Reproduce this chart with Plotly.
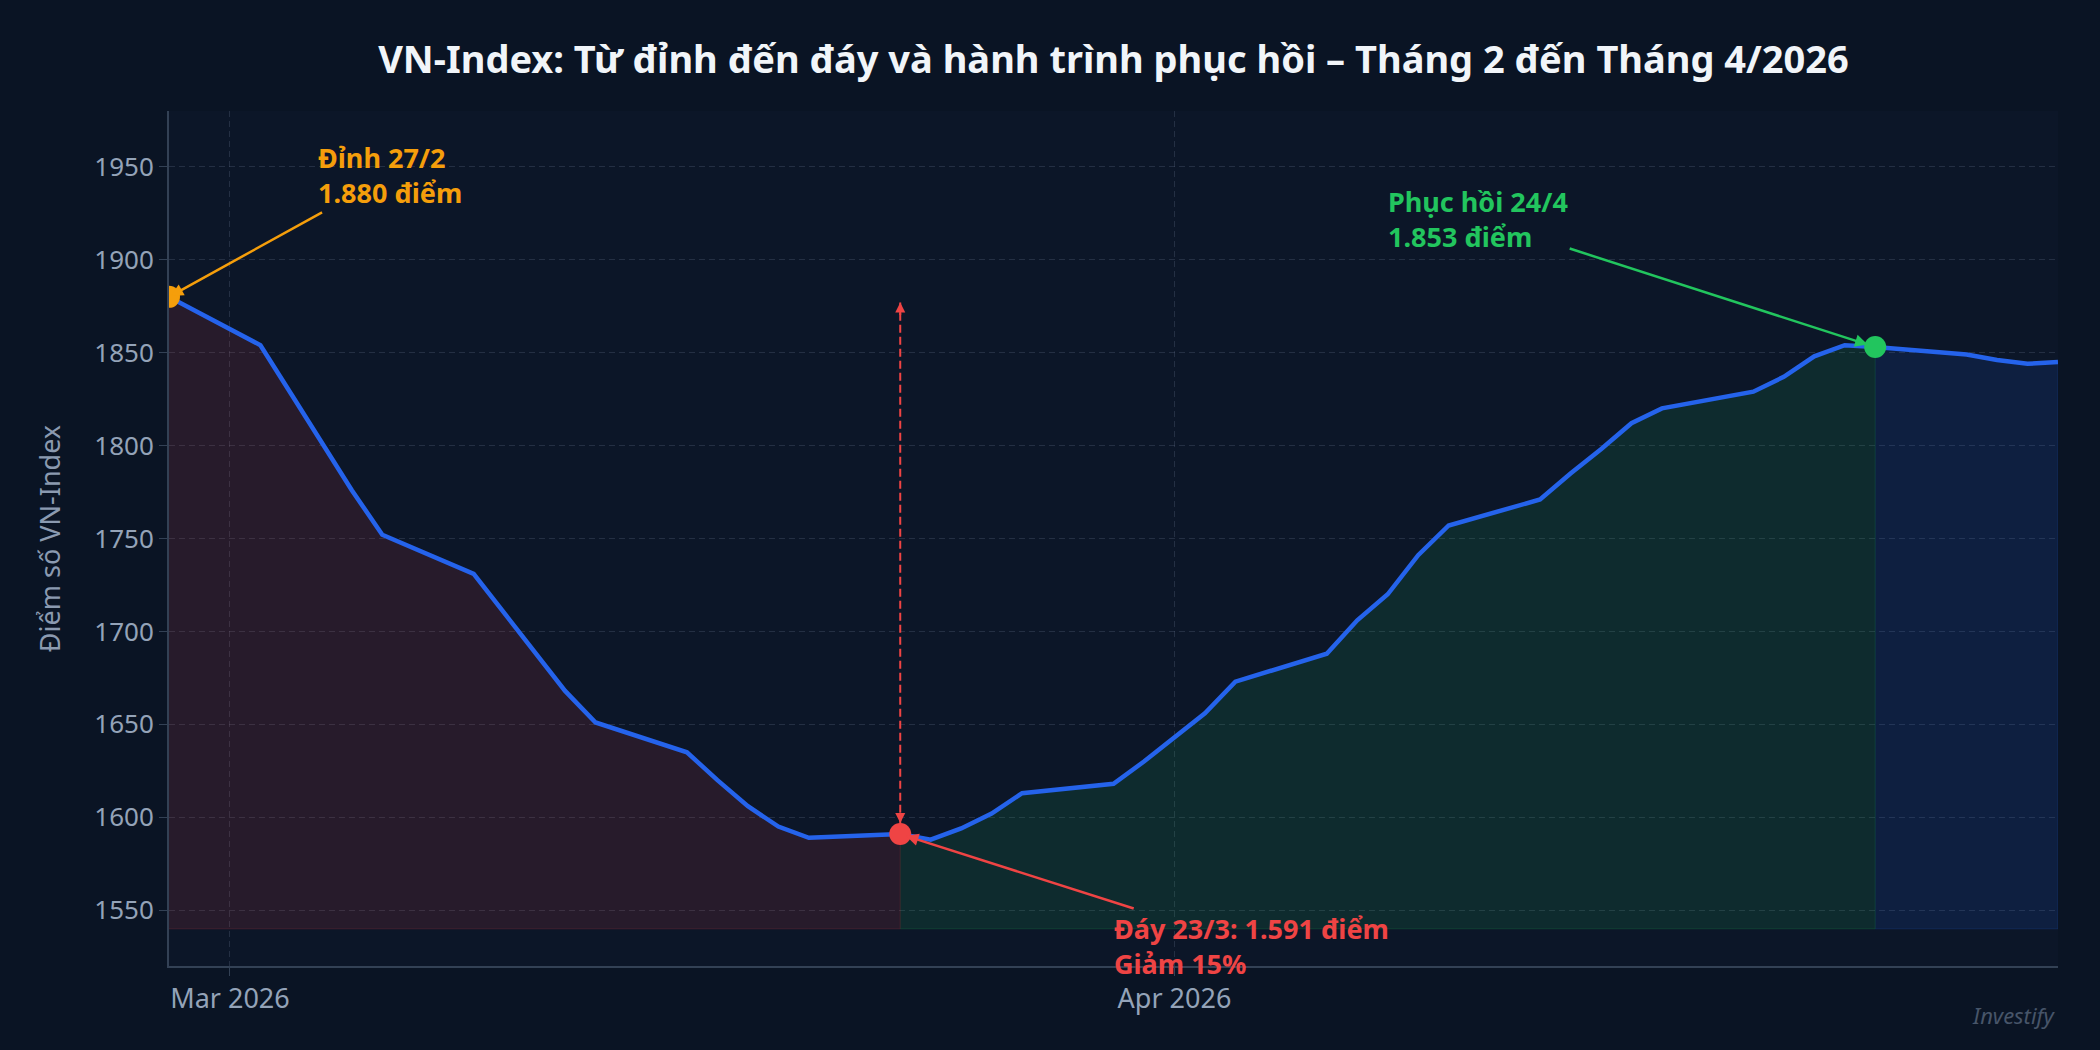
import plotly.graph_objects as go

# VN-Index closes
dates = [
    "2026-02-27", "2026-03-02", "2026-03-03", "2026-03-04", "2026-03-05", "2026-03-06",
    "2026-03-09", "2026-03-10", "2026-03-11", "2026-03-12", "2026-03-13",
    "2026-03-16", "2026-03-17", "2026-03-18", "2026-03-19", "2026-03-20",
    "2026-03-23", "2026-03-24", "2026-03-25", "2026-03-26", "2026-03-27",
    "2026-03-30", "2026-03-31", "2026-04-01", "2026-04-02", "2026-04-03",
    "2026-04-06", "2026-04-07", "2026-04-08", "2026-04-09", "2026-04-10",
    "2026-04-13", "2026-04-14", "2026-04-15", "2026-04-16", "2026-04-17",
    "2026-04-20", "2026-04-21", "2026-04-22", "2026-04-23", "2026-04-24",
    "2026-04-27", "2026-04-28", "2026-04-29", "2026-04-30",
]
values = [
    1880, 1854, 1828, 1802, 1776, 1752,
    1731, 1710, 1689, 1668, 1651,
    1635, 1620, 1606, 1595, 1589,
    1591, 1588, 1594, 1602, 1613,
    1618, 1630, 1643, 1656, 1673,
    1688, 1706, 1720, 1741, 1757,
    1771, 1785, 1798, 1812, 1820,
    1829, 1837, 1848, 1854, 1853,
    1849, 1846, 1844, 1845,
]

peak_idx = 0        # 27/2
trough_idx = 16     # 23/3
recover_idx = 40    # 24/4
fill_base = 1540

BG = "#0a1424"
PLOT_BG = "#0c1628"
BLUE = "#2563eb"
ORANGE = "#f59e0b"
RED = "#ef4444"
GREEN = "#22c55e"
MUTED = "#94a3b8"
AXIS = "#334155"
GRID = "rgba(100,116,139,0.28)"
FONT = "Noto Sans"

fig = go.Figure()


def add_zone(i0, i1, fill, edge):
    xs = dates[i0:i1 + 1]
    ys = values[i0:i1 + 1]
    fig.add_trace(go.Scatter(
        x=xs + xs[::-1],
        y=ys + [fill_base] * len(xs),
        fill="toself",
        fillcolor=fill,
        line=dict(color=edge, width=1),
        mode="lines",
        hoverinfo="skip",
        showlegend=False,
    ))


add_zone(peak_idx, trough_idx, "rgba(239,68,68,0.12)", "rgba(239,68,68,0.18)")
add_zone(trough_idx, recover_idx, "rgba(34,197,94,0.12)", "rgba(34,197,94,0.18)")
add_zone(recover_idx, len(dates) - 1, "rgba(37,99,235,0.12)", "rgba(37,99,235,0.18)")

fig.add_trace(go.Scatter(
    x=dates, y=values, mode="lines",
    line=dict(color=BLUE, width=4.5),
    name="VN-Index", showlegend=False,
))

for idx, color in [(peak_idx, ORANGE), (trough_idx, RED), (recover_idx, GREEN)]:
    fig.add_trace(go.Scatter(
        x=[dates[idx]], y=[values[idx]], mode="markers",
        marker=dict(color=color, size=22),
        showlegend=False,
    ))

# dashed drop indicator from peak level down to the trough
fig.add_shape(
    type="line", xref="x", yref="y",
    x0=dates[trough_idx], x1=dates[trough_idx],
    y0=values[trough_idx] + 5, y1=values[peak_idx] - 3,
    line=dict(color=RED, width=2, dash="8px,4px"),
)
for yv, ay, so in [(values[peak_idx] - 3, 14, 0), (values[trough_idx], -16, 11)]:
    fig.add_annotation(
        x=dates[trough_idx], y=yv, text="", showarrow=True,
        ax=0, ay=ay, arrowhead=2, arrowsize=1, arrowwidth=2,
        arrowcolor=RED, standoff=so,
    )

fig.add_annotation(
    x=dates[peak_idx], y=values[peak_idx],
    text="<b>Đỉnh 27/2<br>1.880 điểm</b>", align="left",
    showarrow=True, ax=221, ay=-122,
    arrowhead=2, arrowsize=1, arrowwidth=2.5, arrowcolor=ORANGE, standoff=2,
    font=dict(family=FONT, size=27, color=ORANGE),
)
fig.add_annotation(
    x=dates[trough_idx], y=values[trough_idx],
    text="<b>Đáy 23/3: 1.591 điểm<br>Giảm 15%</b>", align="left",
    showarrow=True, ax=351, ay=112,
    arrowhead=2, arrowsize=1, arrowwidth=2.5, arrowcolor=RED, standoff=6,
    font=dict(family=FONT, size=27, color=RED),
)
fig.add_annotation(
    x=dates[recover_idx], y=values[recover_idx],
    text="<b>Phục hồi 24/4<br>1.853 điểm</b>", align="left",
    showarrow=True, ax=-397, ay=-128,
    arrowhead=2, arrowsize=1, arrowwidth=2.5, arrowcolor=GREEN, standoff=8,
    font=dict(family=FONT, size=27, color=GREEN),
)
fig.add_annotation(
    xref="paper", yref="paper", x=1, y=-0.057,
    xanchor="right", yanchor="middle", showarrow=False,
    text="<i>Investify</i>",
    font=dict(family=FONT, size=22, color="#475569"),
)

fig.update_layout(
    width=2100, height=1050,
    margin=dict(l=169, r=42, t=111, b=84),
    paper_bgcolor=BG, plot_bgcolor=PLOT_BG,
    font=dict(family=FONT, color=MUTED, size=24),
    title=dict(
        text="<b>VN-Index: Từ đỉnh đến đáy và hành trình phục hồi – Tháng 2 đến Tháng 4/2026</b>",
        x=0.5, xref="paper", xanchor="center", y=0.943, yanchor="middle",
        font=dict(family=FONT, size=38, color="#f1f5f9"),
    ),
    showlegend=False,
    hovermode="x unified",
)
fig.update_xaxes(
    range=["2026-02-27", "2026-04-30"],
    dtick="M1", tickformat="%b %Y",
    showgrid=True, gridcolor=GRID, griddash="6px,4px", gridwidth=1,
    showline=True, linecolor=AXIS, linewidth=2,
    ticks="outside", ticklen=8, tickcolor=AXIS,
    tickfont=dict(size=27, color=MUTED),
    zeroline=False,
)
fig.update_yaxes(
    range=[1520, 1980], tick0=1550, dtick=50,
    showgrid=True, gridcolor=GRID, griddash="6px,4px", gridwidth=1,
    showline=True, linecolor=AXIS, linewidth=2,
    ticks="outside", ticklen=8, tickcolor=AXIS,
    tickfont=dict(size=26, color=MUTED),
    title=dict(text="Điểm số VN-Index", font=dict(size=27, color="#8b9ab0"), standoff=26),
    zeroline=False,
)

fig.write_html(
    "out.html",
    config={"displayModeBar": False},
    post_script="document.body.style.margin='0';document.body.style.background='#0a1424';",
)
